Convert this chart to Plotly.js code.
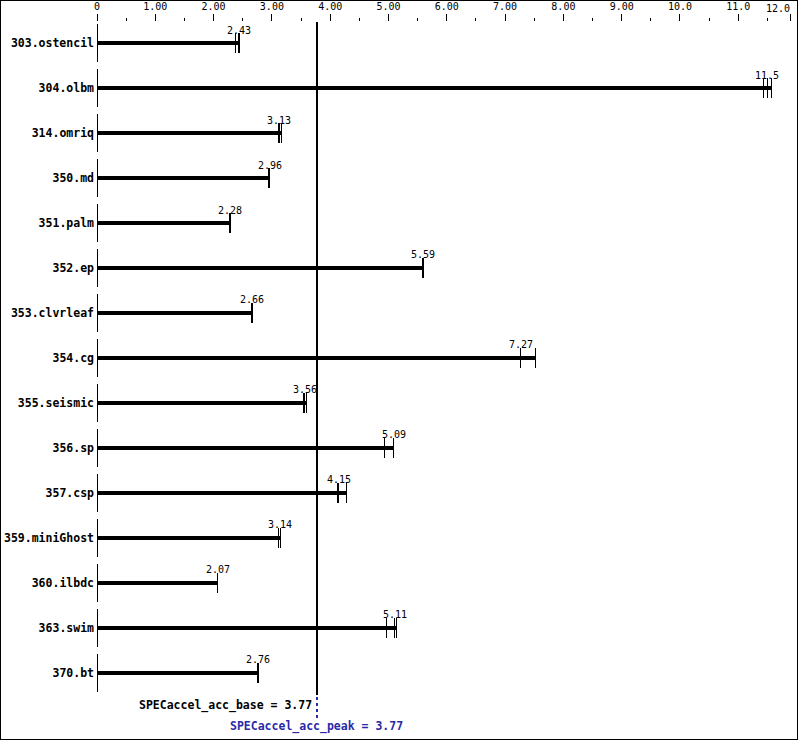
<!DOCTYPE html>
<html>
<head>
<meta charset="utf-8">
<script src="https://cdn.plot.ly/plotly-3.0.1.min.js"></script>
<style>
  html, body { margin: 0; padding: 0; background: #fff; }
  #chart { position: absolute; left: 0; top: 0; width: 799px; height: 741px; }
  #chart svg path { shape-rendering: crispEdges; }
  #frame { position: absolute; left: 0; top: 0; width: 796px; height: 738px; border: 1px solid #000; pointer-events: none; }
</style>
</head>
<body>
<div id="chart"></div>
<div id="frame"></div>
<script>
// ---- data ----
var benchmarks = ["303.ostencil", "304.olbm", "314.omriq", "350.md", "351.palm",
                  "352.ep", "353.clvrleaf", "354.cg", "355.seismic", "356.sp",
                  "357.csp", "359.miniGhost", "360.ilbdc", "363.swim", "370.bt"];
var medians = [2.43, 11.5, 3.13, 2.96, 2.28, 5.59, 2.66, 7.27, 3.56, 5.09, 4.15, 3.14, 2.07, 5.11, 2.76];
var run1 = [2.38, 11.43, 3.12, 2.95, 2.28, 5.58, 2.65, 7.26, 3.55, 4.94, 4.12, 3.12, 2.06, 4.96, 2.75];
var run2 = [2.43, 11.50, 3.13, 2.96, 2.28, 5.59, 2.66, 7.27, 3.56, 5.09, 4.15, 3.14, 2.07, 5.11, 2.76];
var run3 = [2.45, 11.57, 3.16, 2.96, 2.29, 5.60, 2.67, 7.52, 3.59, 5.09, 4.28, 3.15, 2.07, 5.13, 2.77];
var baseScore = 3.77;
var peakScore = 3.77;
var tickVals = [0, 1, 2, 3, 4, 5, 6, 7, 8, 9, 10, 11, 11.9];
var tickText = ["0", "1.00", "2.00", "3.00", "4.00", "5.00", "6.00", "7.00", "8.00", "9.00", "10.0", "11.0", ""];
var lastTickLabel = "12.0";

// ---- build traces ----
var maxRun = benchmarks.map(function (b, i) { return Math.max(run1[i], run2[i], run3[i]); });
var runX = [], runY = [];
benchmarks.forEach(function (b, i) {
  [run1[i], run2[i], run3[i]].forEach(function (v) { runX.push(v); runY.push(b); });
});

var mono = "DejaVu Sans Mono, Liberation Mono, monospace";

var bars = {
  type: "bar", orientation: "h",
  x: maxRun, y: benchmarks,
  width: 0.1,
  marker: { color: "#000", line: { width: 0 } },
  hoverinfo: "skip"
};
var ticks = {
  type: "scatter", mode: "markers",
  x: runX, y: runY,
  marker: { symbol: "line-ns", size: 14, line: { width: 1, color: "#000" }, color: "#000" },
  cliponaxis: false, hoverinfo: "skip"
};
var startMarks = {
  type: "scatter", mode: "markers",
  x: benchmarks.map(function () { return 0; }), y: benchmarks,
  marker: { symbol: "line-ns", size: 27, line: { width: 1, color: "#000" }, color: "#000" },
  cliponaxis: false, hoverinfo: "skip"
};

var annotations = benchmarks.map(function (b, i) {
  return {
    x: medians[i], y: b, xref: "x", yref: "y",
    text: medians[i].toPrecision(3),
    showarrow: false, yshift: 13, xanchor: "center", yanchor: "middle",
    font: { family: mono, size: 10, color: "#000" }
  };
});
annotations.push({
  x: tickVals[tickVals.length - 1], y: 1.0208, xref: "x", yref: "paper",
  text: lastTickLabel, showarrow: false, xanchor: "right", yanchor: "middle", xshift: 1,
  font: { family: mono, size: 10, color: "#000" }
});
annotations.push({
  x: baseScore, y: -0.0149, xref: "x", yref: "paper",
  text: "SPECaccel_acc_base = " + baseScore.toFixed(2),
  showarrow: false, xanchor: "right", yanchor: "middle", xshift: -3,
  font: { family: mono, size: 11.5, color: "#000", weight: "bold" }
});
annotations.push({
  x: peakScore, y: -0.0475, xref: "x", yref: "paper",
  text: "SPECaccel_acc_peak = " + peakScore.toFixed(2),
  showarrow: false, xanchor: "center", yanchor: "middle",
  font: { family: mono, size: 11.5, color: "#2a2aa8", weight: "bold" }
});

var layout = {
  width: 799, height: 741,
  margin: { l: 97, r: 3, t: 22, b: 46, pad: 0 },
  paper_bgcolor: "#fff", plot_bgcolor: "#fff",
  showlegend: false,
  xaxis: {
    side: "top", range: [0, 11.99], fixedrange: true,
    tickmode: "array", tickvals: tickVals, ticktext: tickText,
    ticks: "outside", ticklen: 7, tickwidth: 1, tickcolor: "#000",
    minor: { dtick: 0.5, tick0: 0, ticks: "outside", ticklen: 3, tickwidth: 1, tickcolor: "#000", showgrid: false },
    showgrid: false, zeroline: false, showline: false,
    tickfont: { family: mono, size: 10, color: "#000" },
    automargin: false
  },
  yaxis: {
    type: "category", categoryorder: "array", categoryarray: benchmarks,
    range: [14.49, -0.467], fixedrange: true,
    ticks: "", showgrid: false, zeroline: false, showline: false,
    tickfont: { family: mono, size: 11.5, color: "#000", weight: "bold" },
    ticklabelstandoff: 2,
    automargin: false
  },
  shapes: [
    { type: "line", xref: "x", yref: "paper", x0: baseScore, x1: baseScore, y0: 0, y1: 1,
      line: { color: "#000", width: 2 } },
    { type: "line", xref: "x", yref: "paper", x0: peakScore, x1: peakScore, y0: -0.034, y1: 0,
      line: { color: "#2a2aa8", width: 2, dash: "dot" } }
  ],
  annotations: annotations
};

Plotly.newPlot("chart", [bars, ticks, startMarks], layout, { displayModeBar: false, staticPlot: true });
</script>
</body>
</html>
